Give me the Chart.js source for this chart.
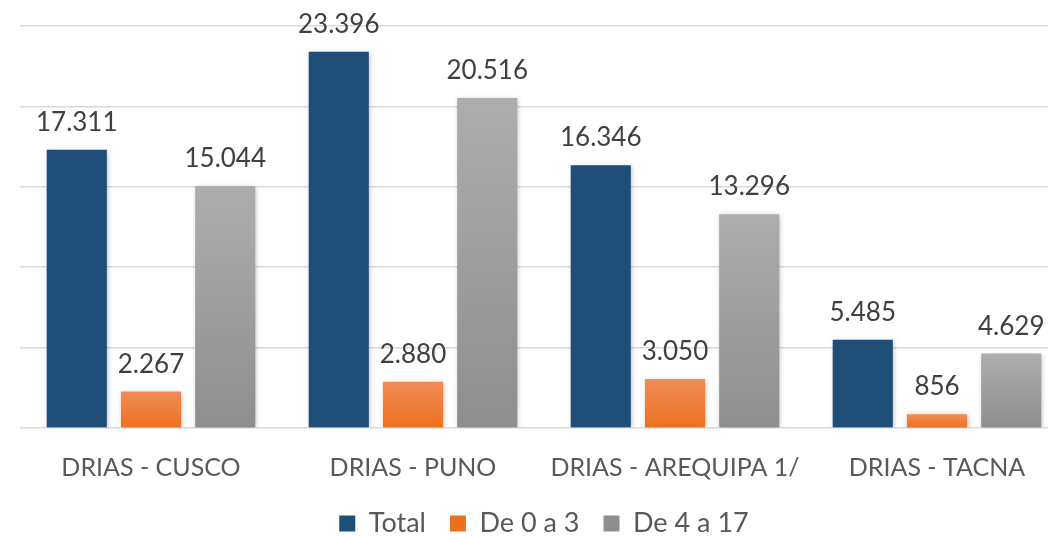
<!DOCTYPE html>
<html>
<head>
<meta charset="utf-8">
<script src="https://cdn.jsdelivr.net/npm/chart.js@4.4.1/dist/chart.umd.min.js"></script>
<style>
  html, body { margin: 0; padding: 0; background: #fff; overflow: hidden; }
  #wrap { width: 1100px; height: 547px; position: relative; }
</style>
</head>
<body>
<div id="wrap"><canvas id="drias"></canvas></div>
<script>
// datos por DRIAS
const categorias = ['DRIAS - CUSCO', 'DRIAS - PUNO', 'DRIAS - AREQUIPA 1/', 'DRIAS - TACNA'];
const total = [17311, 23396, 16346, 5485];
const de0a3 = [2267, 2880, 3050, 856];
const de4a17 = [15044, 20516, 13296, 4629];
const yTicks = [0, 5000, 10000, 15000, 20000, 25000];

function fmt(v) {
    return String(v).replace(/\B(?=(\d{3})+(?!\d))/g, '.');
}

// degradado vertical por barra
function gradiente(top, bottom) {
    return function(context) {
        const chart = context.chart;
        if (!chart.chartArea || context.dataIndex === undefined) return top;
        const y = chart.scales.y;
        const v = context.dataset.data[context.dataIndex];
        const y0 = y.getPixelForValue(v);
        const y1 = y.getPixelForValue(0);
        if (!isFinite(y0) || !isFinite(y1) || y0 === y1) return top;
        const g = chart.ctx.createLinearGradient(0, y0, 0, y1);
        g.addColorStop(0, top);
        g.addColorStop(1, bottom);
        return g;
    };
}

const sombraYEtiquetas = {
    id: 'sombraYEtiquetas',
    beforeDatasetsDraw(chart) {
        const ctx = chart.ctx;
        ctx.save();
        ctx.shadowColor = 'rgba(0,0,0,0.28)';
        ctx.shadowBlur = 5;
        ctx.shadowOffsetX = 1;
        ctx.shadowOffsetY = 1;
    },
    afterDatasetsDraw(chart) {
        const ctx = chart.ctx;
        ctx.restore();
        ctx.save();
        ctx.font = '26px Lato';
        ctx.fillStyle = '#404040';
        ctx.textAlign = 'center';
        ctx.textBaseline = 'alphabetic';
        chart.data.datasets.forEach((ds, i) => {
            const meta = chart.getDatasetMeta(i);
            meta.data.forEach((bar, j) => {
                ctx.fillText(fmt(ds.data[j]), bar.x, bar.y - 19);
            });
        });
        ctx.restore();
    }
};

const ctx = document.getElementById('drias').getContext('2d');
const chart = new Chart(ctx, {
    type: 'bar',
    data: {
        labels: categorias,
        datasets: [{
            label: 'Total',
            data: total,
            backgroundColor: '#1F4E79'
        }, {
            label: 'De 0 a 3',
            data: de0a3,
            backgroundColor: gradiente('#F28C57', '#EC711F')
        }, {
            label: 'De 4 a 17',
            data: de4a17,
            backgroundColor: gradiente('#ADADAD', '#8E8E8E')
        }]
    },
    options: {
        responsive: true,
        maintainAspectRatio: false,
        animation: false,
        categoryPercentage: 0.85,
        barPercentage: 0.81,
        layout: {
            padding: { left: 20, right: 32, top: 26, bottom: 0 }
        },
        scales: {
            x: {
                grid: { display: false },
                border: { display: false },
                ticks: {
                    color: '#595959',
                    font: { family: 'Lato', size: 25 },
                    padding: 17
                },
                afterFit: function(scale) {
                    scale.height = 58;
                }
            },
            y: {
                min: 0,
                max: 25000,
                afterBuildTicks: function(axis) {
                    axis.ticks = yTicks.map(v => ({ value: v }));
                },
                ticks: { display: false },
                border: { display: false },
                grid: {
                    color: '#D9D9D9',
                    lineWidth: 1.5,
                    drawTicks: false
                }
            }
        },
        plugins: {
            legend: {
                position: 'bottom',
                labels: {
                    color: '#595959',
                    font: { family: 'Lato', size: 27 },
                    boxWidth: 16,
                    boxHeight: 16,
                    padding: 24
                }
            },
            tooltip: { enabled: false }
        }
    },
    plugins: [sombraYEtiquetas]
});
</script>
</body>
</html>
